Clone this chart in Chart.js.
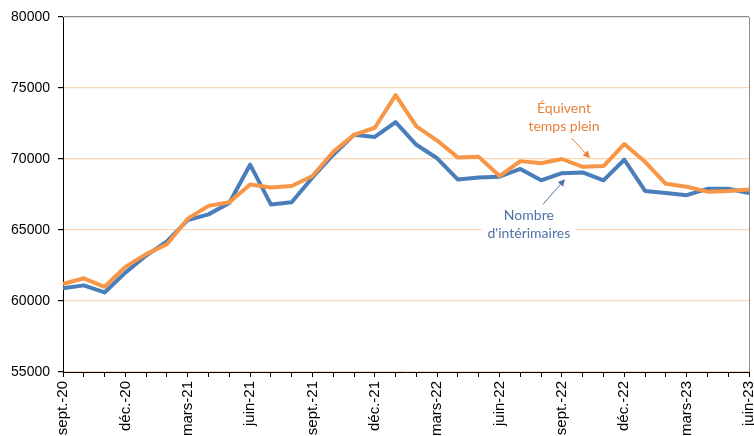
<!DOCTYPE html>
<html>
<head>
<meta charset="utf-8">
<script src="https://cdn.jsdelivr.net/npm/chart.js@4"></script>
<style>
  html, body { margin: 0; padding: 0; background: #fff; }
  #wrap { width: 754px; height: 436px; }
</style>
</head>
<body>
<div id="wrap"><canvas id="chart" width="754" height="436"></canvas></div>
<script>
// Months, sept. 2020 -> juin 2023
const months = ['sept.-20', 'oct.-20', 'nov.-20', 'déc.-20', 'janv.-21', 'févr.-21', 'mars-21', 'avr.-21',
  'mai-21', 'juin-21', 'juil.-21', 'août-21', 'sept.-21', 'oct.-21', 'nov.-21', 'déc.-21', 'janv.-22',
  'févr.-22', 'mars-22', 'avr.-22', 'mai-22', 'juin-22', 'juil.-22', 'août-22', 'sept.-22', 'oct.-22',
  'nov.-22', 'déc.-22', 'janv.-23', 'févr.-23', 'mars-23', 'avr.-23', 'mai-23', 'juin-23'];

// Nombre d'intérimaires
const interimaires = [60900, 61100, 60600, 62000, 63200, 64200, 65700, 66100, 66900, 69600, 66800, 66950,
  68700, 70300, 71700, 71550, 72600, 71000, 70050, 68550, 68700, 68750, 69300, 68500, 69000, 69050,
  68500, 69950, 67750, 67600, 67450, 67900, 67900, 67600];

// Équivalent temps plein
const etp = [61200, 61600, 61000, 62400, 63300, 64000, 65800, 66700, 66950, 68200, 68000, 68100,
  68800, 70500, 71700, 72200, 74500, 72300, 71300, 70100, 70150, 68800, 69850, 69700, 70000, 69450,
  69500, 71050, 69800, 68250, 68050, 67700, 67750, 67850];

const yTicks = [55000, 60000, 65000, 70000, 75000, 80000];

const BLUE = '#4A7EBB';
const ORANGE = '#F79646';

// labels + arrows, placed in data coordinates (index, value)
const notes = [
  { lines: ['Équivent', 'temps plein'], x: 24.1, y: [73580, 72310], color: '#E8823A',
    arrow: [24.47, 71470, 25.35, 70060], bg: false },
  { lines: ['Nombre', "d'intérimaires"], x: 22.41, y: [66040, 64770], color: '#4F73A8',
    arrow: [23.09, 66810, 24.15, 68580], bg: true }
];

function drawArrow(ctx, x1, y1, x2, y2, color) {
  const ang = Math.atan2(y2 - y1, x2 - x1);
  const len = 7, w = 3.5;
  ctx.save();
  ctx.strokeStyle = color;
  ctx.fillStyle = color;
  ctx.lineWidth = 1;
  ctx.beginPath();
  ctx.moveTo(x1, y1);
  ctx.lineTo(x2 - Math.cos(ang) * len, y2 - Math.sin(ang) * len);
  ctx.stroke();
  ctx.beginPath();
  ctx.moveTo(x2, y2);
  ctx.lineTo(x2 - Math.cos(ang) * len - Math.sin(ang) * w, y2 - Math.sin(ang) * len + Math.cos(ang) * w);
  ctx.lineTo(x2 - Math.cos(ang) * len + Math.sin(ang) * w, y2 - Math.sin(ang) * len - Math.cos(ang) * w);
  ctx.closePath();
  ctx.fill();
  ctx.restore();
}

const notesPlugin = {
  id: 'notes',
  afterDraw(chart) {
    const { ctx, scales: { x, y }, chartArea } = chart;
    // right frame line
    ctx.save();
    ctx.strokeStyle = '#8C8C8C';
    ctx.lineWidth = 1;
    ctx.beginPath();
    ctx.moveTo(chartArea.right + 0.5, chartArea.top);
    ctx.lineTo(chartArea.right + 0.5, chartArea.bottom);
    ctx.stroke();
    ctx.restore();

    ctx.save();
    ctx.font = '14px Lato';
    ctx.textAlign = 'center';
    ctx.textBaseline = 'middle';
    notes.forEach(n => {
      const cx = x.getPixelForValue(n.x);
      if (n.bg) {
        const w = Math.max(...n.lines.map(l => ctx.measureText(l).width)) + 12;
        ctx.fillStyle = '#fff';
        ctx.fillRect(cx - w / 2, y.getPixelForValue(n.y[0]) - 10, w, y.getPixelForValue(n.y[1]) - y.getPixelForValue(n.y[0]) + 20);
      }
      ctx.fillStyle = n.color;
      n.lines.forEach((l, i) => ctx.fillText(l, cx, y.getPixelForValue(n.y[i])));
      const a = n.arrow;
      drawArrow(ctx, x.getPixelForValue(a[0]), y.getPixelForValue(a[1]),
        x.getPixelForValue(a[2]), y.getPixelForValue(a[3]), n.color);
    });
    ctx.restore();
  }
};

new Chart(document.getElementById('chart').getContext('2d'), {
  type: 'line',
  data: {
    labels: months,
    datasets: [
      { label: "Nombre d'intérimaires", data: interimaires, borderColor: BLUE, borderWidth: 4, order: 2 },
      { label: 'Équivent temps plein', data: etp, borderColor: ORANGE, borderWidth: 4, order: 1 }
    ]
  },
  options: {
    responsive: false,
    animation: false,
    events: [],
    layout: { padding: { top: 17, right: 5, left: 0, bottom: 0 } },
    elements: { point: { radius: 0 }, line: { tension: 0, borderJoinStyle: 'round' } },
    plugins: { legend: { display: false }, tooltip: { enabled: false } },
    scales: {
      x: {
        offset: false,
        grid: { drawOnChartArea: false, drawTicks: true, tickLength: 5, tickColor: '#000' },
        border: { color: '#000', width: 1 },
        ticks: {
          autoSkip: false, maxRotation: 90, minRotation: 90, padding: 4,
          color: '#000', font: { family: 'Liberation Sans, Arial', size: 15 },
          callback: (v, i) => (i % 3 === 0 ? months[i] : '')
        },
        afterFit: s => { s.paddingLeft = 0; s.paddingRight = 0; s.height = 64; }
      },
      y: {
        min: 55000, max: 80000,
        afterBuildTicks: s => { s.ticks = yTicks.map(v => ({ value: v })); },
        grid: {
          color: c => (c.tick.value === 80000 ? '#8C8C8C' : '#FCD5B4'),
          lineWidth: 1.2, tickLength: 5, tickColor: '#000'
        },
        border: { color: '#000', width: 1 },
        ticks: {
          padding: 8, color: '#000', font: { family: 'Liberation Sans, Arial', size: 14 },
          callback: v => String(v)
        },
        afterFit: s => { s.width = 63; s.paddingTop = 0; s.paddingBottom = 0; }
      }
    }
  },
  plugins: [notesPlugin]
});
</script>
</body>
</html>
